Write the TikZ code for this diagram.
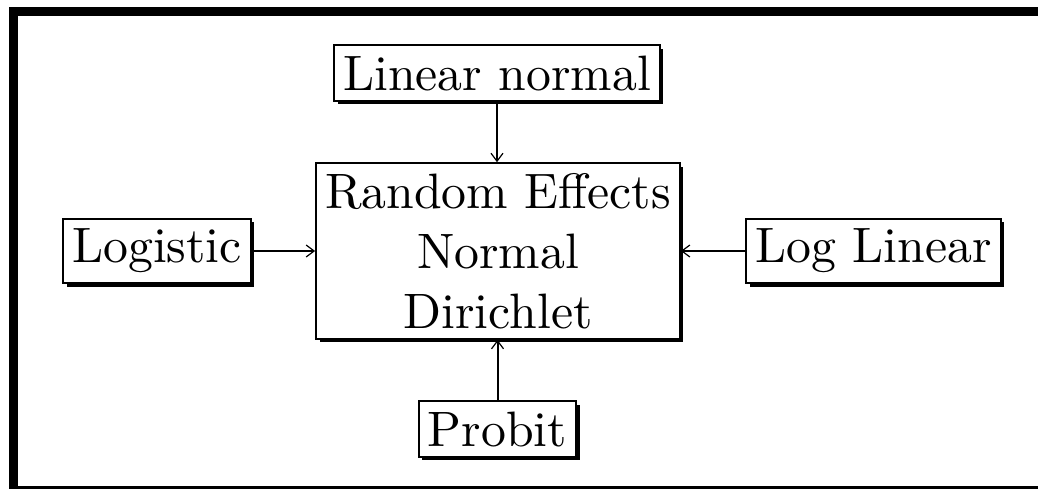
\documentclass[tikz,border=0pt]{standalone}
\usetikzlibrary{arrows.meta,shadows}
% Roman at the 10pt design size, scaled up
\font\boxfont="[lmroman10-regular.otf]" at 24.88pt
\begin{document}
\begin{tikzpicture}[x=0.5pt,y=-0.5pt,
  sbox/.style={draw=black, line width=1pt, fill=white,
    font={\boxfont\baselineskip=30pt},
    inner xsep=4.5pt, inner ysep=5pt, align=center,
    drop shadow={shadow xshift=1.75pt, shadow yshift=-1.75pt, fill=black, opacity=1}},
  feed/.style={line width=1pt, -{Straight Barb[length=4pt,width=6pt,line width=0.6pt]}}]
  \useasboundingbox (0,0) rectangle (1038,489);
  % page frame
  \fill (9,7) rectangle (1038,16);
  \fill (9,7) rectangle (18,489);
  \fill (18,486) rectangle (1038,489);
  % boxes
  \node[sbox] (ctr) at (498,251) {Random Effects\\Normal\\Dirichlet};
  \node[sbox] (lin) at (497,73) {Linear normal};
  \node[sbox] (logi) at (157,251) {Logistic};
  \node[sbox] (logl) at (873.5,251) {Log Linear};
  \node[sbox] (prob) at (497.5,429) {Probit};
  % connectors into the central box
  \draw[feed] (lin.south) -- (lin.south |- ctr.north);
  \draw[feed] (logi.east) -- (logi.east -| ctr.west);
  \draw[feed] (logl.west) -- (logl.west -| ctr.east);
  \draw[feed] (prob.north) -- (prob.north |- ctr.south);
\end{tikzpicture}
\end{document}
